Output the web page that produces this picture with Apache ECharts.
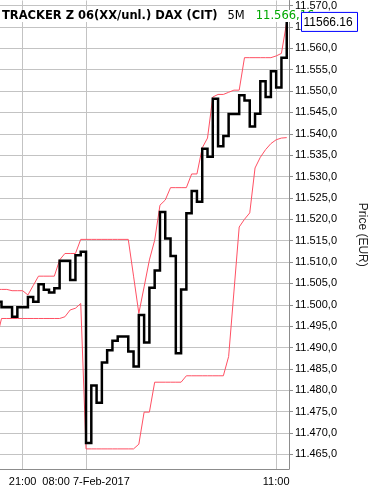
<!DOCTYPE html>
<html><head><meta charset="utf-8">
<script src="https://cdn.jsdelivr.net/npm/echarts@6/dist/echarts.min.js"></script>
<style>html,body{margin:0;padding:0;background:#fff}#c{width:376px;height:489px}</style>
</head><body><div id="c"></div>
<script>
const times = ['20:35','20:40','20:45','20:50','20:55','21:00','21:05','21:10','21:15','21:20','21:25','21:30','21:35','21:40','21:45','21:50','21:55',
  '08:00','08:05','08:10','08:15','08:20','08:25','08:30','08:35','08:40','08:45','08:50','08:55',
  '09:00','09:05','09:10','09:15','09:20','09:25','09:30','09:35','09:40','09:45','09:50','09:55',
  '10:00','10:05','10:10','10:15','10:20','10:25','10:30','10:35','10:40','10:45','10:50','10:55',
  '11:00','11:05','11:10'];
const closeVals = [11500.7,11499.4,11499.4,11497.2,11499.4,11499.4,11501.8,11500.7,11504.8,11503.5,11502.9,11503.9,11510.3,11510.3,11505.8,11511.6,11512.4,
  11467.7,11481.1,11477.1,11486.5,11489.4,11491.6,11492.6,11492.6,11489.1,11485.6,11497.6,11491.2,
  11504.0,11508.0,11521.7,11515.5,11511.4,11488.7,11503.6,11521.4,11526.6,11524.1,11536.5,11534.6,
  11548.2,11537.1,11539.5,11544.6,11544.6,11549.0,11547.8,11541.7,11544.7,11552.3,11548.6,11554.6,
  11550.8,11557.8,11566.16];
const upperBand = [11503.6,11503.6,11503.6,11503.3,11503.3,11503.3,11502.3,11504.5,11506.7,11506.7,11506.7,11506.7,11510.5,11512.0,11512.0,11512.0,11515.3,
  11515.3,11515.3,11515.3,11515.3,11515.3,11515.3,11515.3,11515.3,11515.3,11506.7,11498.0,11504.2,
  11510.5,11515.1,11523.3,11524.5,11527.4,11527.4,11527.4,11527.4,11530.6,11530.6,11536.7,11539.0,
  11548.6,11549.2,11549.2,11549.7,11550.2,11550.2,11557.8,11557.8,11557.8,11557.8,11557.8,11557.8,
  11558.2,11558.8,11566.16];
const lowerBand = [11491.6,11496.8,11496.8,11496.8,11496.8,11496.8,11496.8,11496.8,11496.8,11496.8,11496.8,11496.8,11496.8,11497.2,11498.8,11499.2,11500.3,
  11466.3,11466.3,11466.3,11466.3,11466.3,11466.3,11466.3,11466.3,11466.3,11466.3,11467.4,11474.9,
  11474.9,11481.9,11481.9,11481.9,11481.9,11481.9,11481.9,11483.4,11483.4,11483.4,11483.4,11483.4,
  11483.4,11483.4,11483.4,11487.9,11503.0,11518.2,11520.0,11521.5,11532.0,11534.5,11536.3,11537.7,
  11538.6,11539.0,11539.1];
const xTickTimes = ['21:00','08:00','11:00'];
const xTickLabels = ['21:00','08:00 7-Feb-2017','11:00'];
const yTicks = [11465,11470,11475,11480,11485,11490,11495,11500,11505,11510,11515,11520,11525,11530,11535,11540,11545,11550,11555,11560,11565,11570];
const lastPrice = 11566.16;
const titleMain = 'TRACKER Z 06(XX/unl.) DAX (CIT)';
const titleFreq = '5M';
const titlePrice = '11.566,16';
const axisName = 'Price (EUR)';

const xTickIdx = xTickTimes.map(t => times.indexOf(t));
function fmtPrice(v){
  const s = v.toFixed(1); const p = s.split('.');
  return p[0].replace(/\B(?=(\d{3})+(?!\d))/g, '.') + ',' + p[1];
}
const toPairs = arr => arr.map((v, i) => [i, v]);

const chart = echarts.init(document.getElementById('c'), null, {renderer:'canvas'});
const gridCol = '#c3c3c3', axisCol = '#8c8c8c', redCol = '#ff5063';
chart.setOption({
  animation: false,
  backgroundColor: '#fff',
  grid: {left: 0, right: 76, top: 0, bottom: 20, containLabel: false},
  xAxis: {
    type: 'value', min: 0.714, max: 55.43,
    axisLine: {show: true, onZero: false, lineStyle: {color: axisCol, width: 1}},
    axisTick: {show: false, customValues: xTickIdx},
    axisLabel: {customValues: xTickIdx, margin: 7, color: '#000', fontFamily: 'Liberation Sans', fontSize: 11,
      formatter: v => { const k = xTickIdx.indexOf(Math.round(v)); return k >= 0 ? xTickLabels[k] : ''; }},
    splitLine: {show: true, lineStyle: {color: gridCol, width: 1}}
  },
  yAxis: {
    type: 'value', position: 'right', min: 11461.6, max: 11571.17, scale: true,
    name: axisName, nameLocation: 'middle', nameRotate: -90, nameGap: 67,
    nameTextStyle: {fontFamily: 'Liberation Sans', fontSize: 12, color: '#222'},
    axisLine: {show: true, lineStyle: {color: axisCol, width: 1}},
    axisTick: {show: true, length: 4, customValues: yTicks, lineStyle: {color: axisCol}},
    axisLabel: {customValues: yTicks, margin: 6, color: '#000', fontFamily: 'Liberation Sans', fontSize: 11, formatter: fmtPrice},
    splitLine: {show: true, lineStyle: {color: gridCol, width: 1}}
  },
  series: [
    {type: 'line', data: toPairs(upperBand), symbol: 'none', lineStyle: {color: redCol, width: 1}, z: 2},
    {type: 'line', data: toPairs(lowerBand), symbol: 'none', lineStyle: {color: redCol, width: 1}, z: 2},
    {type: 'line', step: 'end', data: toPairs(closeVals), symbol: 'none', lineStyle: {color: '#000', width: 2.5, join: 'miter', cap: 'square'}, z: 3}
  ]
});

const py = chart.convertToPixel({gridIndex: 0}, [0, lastPrice])[1];
chart.setOption({
  graphic: [
    {type: 'text', left: 1, top: 10, z: 100,
      style: {
        text: '{t|' + titleMain + '}{s|' + titleFreq + '}{g|' + titlePrice + '}',
        backgroundColor: '#fff', padding: [0, 1, 0, 1],
        rich: {
          t: {fontFamily: 'DejaVu Sans', fontWeight: 'bold', fontSize: 11.5, fill: '#000', lineHeight: 12},
          s: {fontFamily: 'DejaVu Sans', fontSize: 11.5, fill: '#000', padding: [0, 0, 0, 10], lineHeight: 12},
          g: {fontFamily: 'DejaVu Sans', fontSize: 11.5, fill: '#00a800', padding: [0, 0, 0, 11], lineHeight: 12}
        }
      }},
    {type: 'group', left: 301, top: py - 10, z: 110, children: [
      {type: 'rect', shape: {x: 0, y: 0, width: 56, height: 19}, style: {fill: '#fff', stroke: '#0000ff', lineWidth: 1}, z: 110},
      {type: 'text', x: 2, y: 10, z: 111, style: {text: lastPrice.toFixed(2), fontFamily: 'Liberation Sans', fontSize: 12, fill: '#000', textVerticalAlign: 'middle'}}
    ]}
  ]
});
</script></body></html>
